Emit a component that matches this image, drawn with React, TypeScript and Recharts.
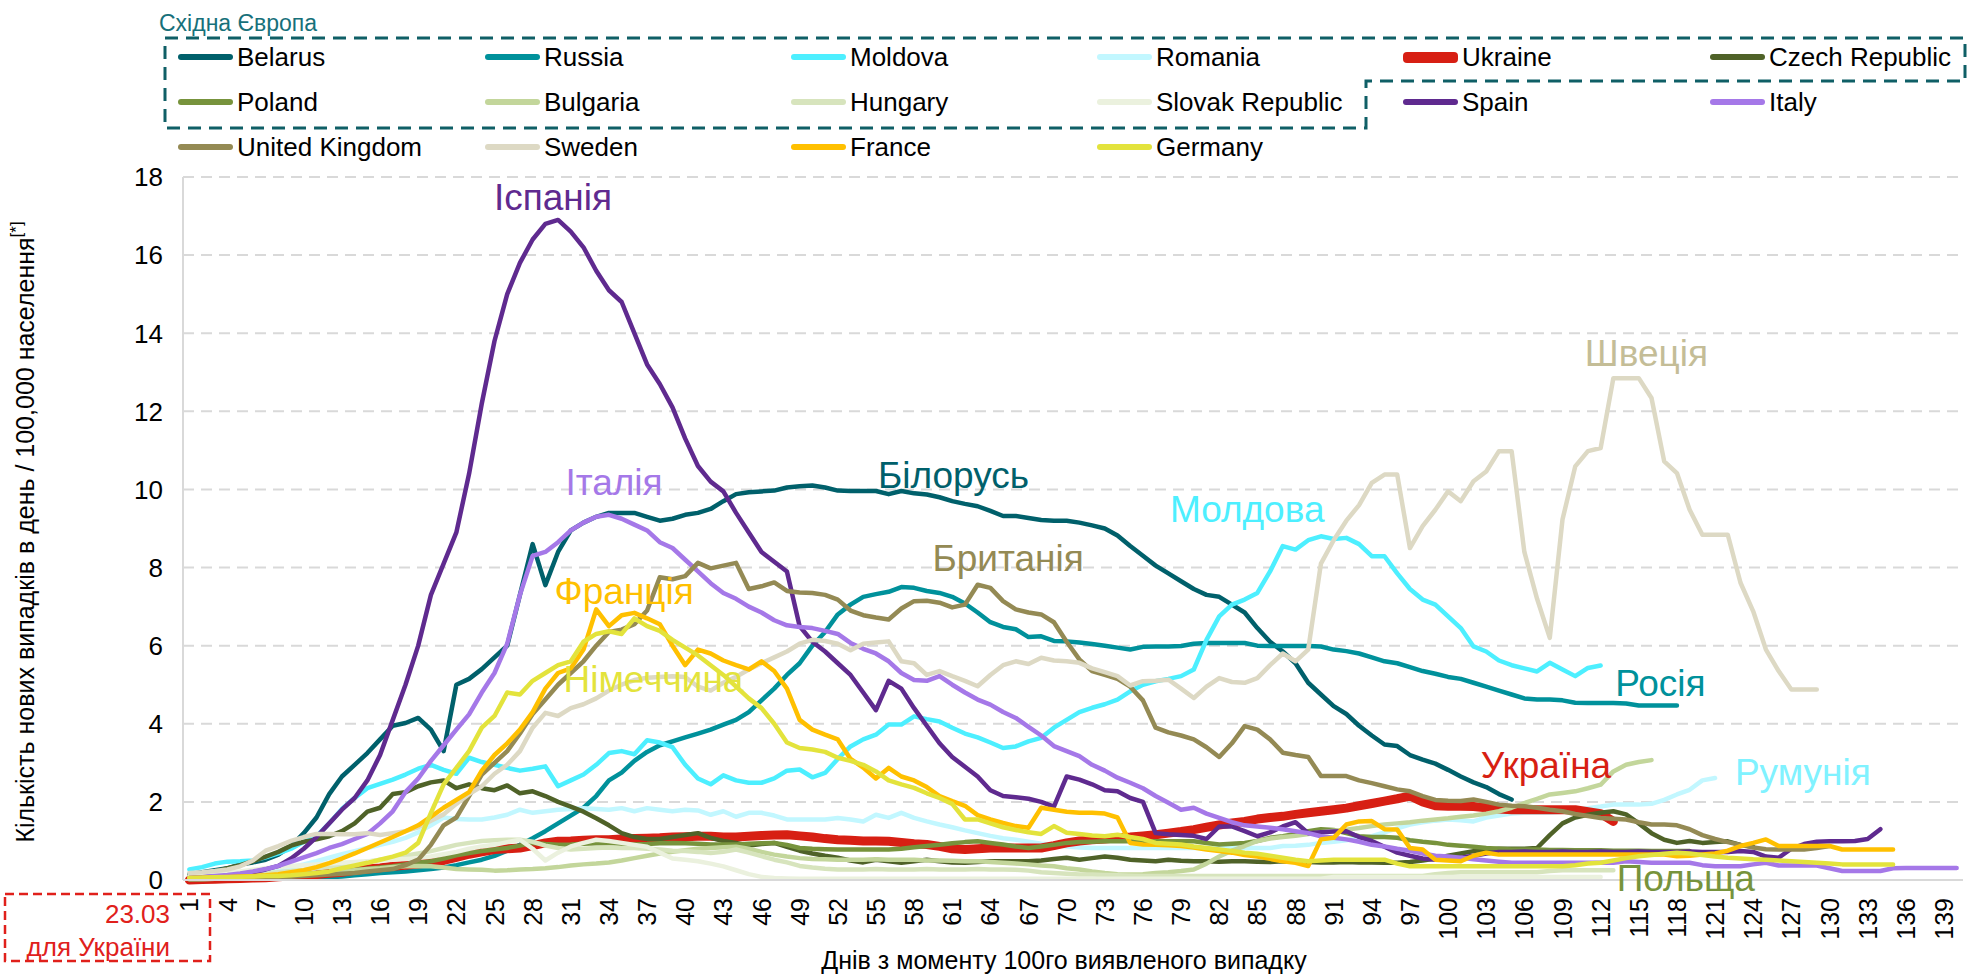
import React from 'react';
import { CartesianGrid, Line, LineChart, ReferenceDot, XAxis, YAxis } from 'recharts';

const FONT = '"Liberation Sans", Arial, sans-serif';

// days since 100th case (category axis)
const days = Array.from({ length: 140 }, (_, i) => i + 1);
const xTicks = [1, 4, 7, 10, 13, 16, 19, 22, 25, 28, 31, 34, 37, 40, 43, 46, 49, 52, 55, 58, 61, 64, 67, 70, 73, 76, 79, 82, 85, 88, 91, 94, 97, 100, 103, 106, 109, 112, 115, 118, 121, 124, 127, 130, 133, 136, 139];
const yTicks = [0, 2, 4, 6, 8, 10, 12, 14, 16, 18];

const belarus = [0.15, 0.2, 0.25, 0.3, 0.4, 0.45, 0.52, 0.65, 0.87, 1.2,
    1.6, 2.2, 2.65, 2.95, 3.25, 3.6, 3.95, 4.02, 4.15, 3.85,
    3.3, 5.0, 5.15, 5.4, 5.7, 6.0, 7.3, 8.6, 7.55, 8.4,
    8.95, 9.15, 9.3, 9.4, 9.4, 9.4, 9.3, 9.2, 9.25, 9.35,
    9.4, 9.5, 9.7, 9.88, 9.93, 9.95, 9.97, 10.05, 10.08, 10.1,
    10.05, 9.97, 9.96, 9.96, 9.96, 9.88, 9.96, 9.9, 9.87, 9.8,
    9.7, 9.63, 9.57, 9.45, 9.32, 9.32, 9.27, 9.22, 9.2, 9.2,
    9.15, 9.08, 9.0, 8.82, 8.55, 8.3, 8.05, 7.85, 7.65, 7.45,
    7.3, 7.25, 7.05, 6.85, 6.45, 6.1, 5.85, 5.55, 5.05, 4.75,
    4.45, 4.25, 3.95, 3.7, 3.47, 3.43, 3.2, 3.08, 2.98, 2.82,
    2.65, 2.5, 2.38, 2.2, 2.06];

const russia = [0.03, 0.03, 0.03, 0.03, 0.03, 0.04, 0.04, 0.04, 0.04, 0.04,
    0.05, 0.07, 0.09, 0.12, 0.15, 0.18, 0.2, 0.22, 0.25, 0.28,
    0.32, 0.38, 0.45, 0.52, 0.62, 0.75, 0.9, 1.07, 1.25, 1.45,
    1.65, 1.85, 2.15, 2.55, 2.75, 3.05, 3.28, 3.45, 3.55, 3.65,
    3.75, 3.85, 3.98, 4.1, 4.3, 4.6, 4.9, 5.25, 5.55, 6.0,
    6.35, 6.8, 7.05, 7.25, 7.32, 7.38, 7.5, 7.48, 7.4, 7.35,
    7.25, 7.08, 6.85, 6.6, 6.48, 6.42, 6.22, 6.24, 6.12, 6.11,
    6.08, 6.04, 6.0, 5.95, 5.9, 5.97, 5.98, 5.98, 5.99, 6.05,
    6.07, 6.07, 6.07, 6.07, 6.0, 5.99, 5.99, 5.99, 5.99, 5.98,
    5.9, 5.86, 5.8, 5.7, 5.6, 5.55, 5.45, 5.35, 5.28, 5.2,
    5.15, 5.05, 4.95, 4.85, 4.75, 4.65, 4.62, 4.62, 4.6, 4.54,
    4.53, 4.53, 4.53, 4.52, 4.47, 4.47, 4.47, 4.47];

const moldova = [0.27, 0.33, 0.42, 0.47, 0.48, 0.5, 0.58, 0.68, 0.8, 0.98,
    1.12, 1.45, 1.82, 2.1, 2.35, 2.46, 2.57, 2.7, 2.85, 2.95,
    2.82, 2.72, 3.13, 3.02, 2.95, 2.87, 2.8, 2.85, 2.91, 2.4,
    2.55, 2.7, 2.95, 3.25, 3.3, 3.22, 3.58, 3.52, 3.4, 2.95,
    2.6, 2.45, 2.68, 2.55, 2.49, 2.49, 2.6, 2.8, 2.83, 2.63,
    2.74, 3.1, 3.42, 3.6, 3.72, 3.98, 3.98, 4.19, 4.12, 4.06,
    3.9, 3.75, 3.65, 3.52, 3.38, 3.42, 3.55, 3.64, 3.9, 4.1,
    4.3, 4.41, 4.5, 4.62, 4.83, 5.0, 5.09, 5.15, 5.22, 5.39,
    6.15, 6.75, 7.05, 7.18, 7.35, 7.9, 8.55, 8.46, 8.7, 8.8,
    8.73, 8.76, 8.6, 8.29, 8.29, 7.85, 7.45, 7.18, 7.05, 6.75,
    6.45, 5.98, 5.85, 5.62, 5.5, 5.42, 5.34, 5.56, 5.39, 5.22,
    5.43, 5.49];

const romania = [0.05, 0.06, 0.08, 0.1, 0.13, 0.17, 0.22, 0.28, 0.33, 0.4,
    0.48, 0.57, 0.66, 0.74, 0.82, 0.9, 0.98, 1.08, 1.22, 1.4,
    1.6, 1.56, 1.55, 1.55, 1.6, 1.67, 1.8, 1.72, 1.76, 1.8,
    1.82, 1.84, 1.82, 1.8, 1.84, 1.76, 1.84, 1.8, 1.76, 1.8,
    1.78, 1.67, 1.76, 1.62, 1.72, 1.72, 1.65, 1.55, 1.55, 1.55,
    1.55, 1.59, 1.55, 1.5, 1.67, 1.59, 1.72, 1.59, 1.5, 1.42,
    1.35, 1.27, 1.2, 1.13, 1.07, 1.03, 0.98, 0.93, 0.9, 0.86,
    0.83, 0.82, 0.82, 0.82, 0.82, 0.82, 0.82, 0.82, 0.82, 0.82,
    0.82, 0.82, 0.82, 0.82, 0.82, 0.82, 0.87, 0.88, 0.9, 0.95,
    0.98, 1.02, 1.06, 1.12, 1.22, 1.32, 1.42, 1.48, 1.52, 1.55,
    1.53, 1.5, 1.6, 1.65, 1.7, 1.72, 1.72, 1.72, 1.75, 1.8,
    1.84, 1.88, 1.93, 1.93, 1.93, 1.95, 2.05, 2.19, 2.31, 2.55,
    2.61];

const ukraine = [0.0, 0.01, 0.02, 0.03, 0.04, 0.05, 0.06, 0.08, 0.1, 0.12,
    0.14, 0.17, 0.2, 0.25, 0.28, 0.31, 0.35, 0.38, 0.41, 0.44,
    0.5, 0.58, 0.66, 0.72, 0.78, 0.8, 0.82, 0.88, 0.95, 0.99,
    1.0, 1.02, 1.03, 1.03, 1.05, 1.06, 1.07, 1.08, 1.1, 1.11,
    1.12, 1.12, 1.1, 1.1, 1.12, 1.14, 1.15, 1.16, 1.13, 1.1,
    1.06, 1.03, 1.02, 1.0, 1.0, 0.99, 0.96, 0.93, 0.91, 0.86,
    0.8, 0.78, 0.8, 0.82, 0.82, 0.82, 0.82, 0.82, 0.88, 0.95,
    1.0, 1.03, 1.05, 1.08, 1.1, 1.13, 1.16, 1.2, 1.24, 1.29,
    1.35, 1.41, 1.46, 1.5, 1.56, 1.6, 1.63, 1.68, 1.72, 1.76,
    1.8, 1.84, 1.9, 1.96, 2.02, 2.08, 2.15, 2.0, 1.9, 1.89,
    1.89, 1.88, 1.85, 1.82, 1.8, 1.8, 1.8, 1.8, 1.8, 1.8,
    1.75, 1.7, 1.5];

const czech = [0.1, 0.15, 0.22, 0.3, 0.38, 0.48, 0.6, 0.72, 0.88, 0.98,
    1.04, 1.12, 1.25, 1.45, 1.75, 1.85, 2.2, 2.25, 2.4, 2.5,
    2.55, 2.35, 2.45, 2.35, 2.3, 2.42, 2.22, 2.27, 2.15, 2.0,
    1.88, 1.75, 1.58, 1.4, 1.2, 1.1, 1.05, 1.05, 1.1, 1.15,
    1.2, 1.08, 1.0, 0.95, 0.88, 0.92, 0.95, 0.85, 0.75, 0.68,
    0.62, 0.57, 0.5, 0.45, 0.52, 0.48, 0.44, 0.48, 0.52, 0.48,
    0.45, 0.44, 0.46, 0.48, 0.48, 0.48, 0.48, 0.5, 0.54, 0.57,
    0.52, 0.56, 0.6, 0.57, 0.52, 0.5, 0.48, 0.52, 0.49, 0.48,
    0.48, 0.47, 0.48, 0.48, 0.47, 0.46, 0.48, 0.47, 0.46, 0.45,
    0.45, 0.46, 0.45, 0.45, 0.44, 0.44, 0.46, 0.5, 0.55, 0.62,
    0.68, 0.74, 0.78, 0.8, 0.8, 0.8, 0.82, 1.15, 1.45, 1.6,
    1.67, 1.72, 1.76, 1.68, 1.45, 1.2, 1.03, 0.95, 1.0, 0.95,
    0.97, 0.99, 0.9, 0.85];

const poland = [0.02, 0.03, 0.04, 0.05, 0.06, 0.08, 0.1, 0.12, 0.14, 0.16,
    0.18, 0.2, 0.23, 0.26, 0.29, 0.32, 0.35, 0.4, 0.44, 0.48,
    0.55, 0.63, 0.69, 0.74, 0.78, 0.82, 0.88, 0.95, 0.92, 0.9,
    0.91, 0.93, 0.94, 0.95, 0.93, 0.91, 0.92, 0.94, 0.95, 0.94,
    0.93, 0.91, 0.91, 0.91, 0.93, 0.94, 0.95, 0.9, 0.82, 0.8,
    0.79, 0.78, 0.78, 0.78, 0.78, 0.78, 0.8, 0.84, 0.87, 0.9,
    0.94, 0.97, 0.99, 0.95, 0.91, 0.86, 0.82, 0.86, 0.9, 0.95,
    0.97, 0.98, 0.99, 0.99, 0.99, 0.99, 0.99, 0.99, 0.99, 0.99,
    0.95, 0.91, 0.93, 0.95, 1.0, 1.08, 1.12, 1.18, 1.25, 1.3,
    1.28, 1.2, 1.12, 1.1, 1.1, 1.08, 1.02, 0.98, 0.95, 0.9,
    0.88, 0.85, 0.82, 0.8, 0.78, 0.78, 0.78, 0.77, 0.77, 0.76,
    0.76, 0.76, 0.75, 0.75, 0.75, 0.74, 0.74, 0.74, 0.74];

const bulgaria = [0.02, 0.02, 0.03, 0.04, 0.05, 0.06, 0.08, 0.1, 0.12, 0.14,
    0.17, 0.2, 0.22, 0.25, 0.28, 0.3, 0.33, 0.35, 0.36, 0.35,
    0.32, 0.28, 0.27, 0.26, 0.24, 0.25, 0.27, 0.28, 0.3, 0.33,
    0.37, 0.4, 0.42, 0.45, 0.5, 0.56, 0.62, 0.68, 0.72, 0.76,
    0.8, 0.82, 0.84, 0.85, 0.8, 0.72, 0.65, 0.6, 0.56, 0.54,
    0.53, 0.52, 0.52, 0.52, 0.53, 0.52, 0.52, 0.52, 0.5, 0.5,
    0.49, 0.48, 0.48, 0.46, 0.44, 0.42, 0.4, 0.37, 0.35, 0.3,
    0.27, 0.22, 0.18, 0.15, 0.14, 0.15, 0.18, 0.2, 0.23, 0.27,
    0.42, 0.6, 0.75, 0.87, 1.0, 1.06, 1.1, 1.13, 1.18, 1.22,
    1.26, 1.29, 1.33, 1.38, 1.42, 1.45, 1.48, 1.52, 1.55, 1.58,
    1.62, 1.65, 1.7, 1.76, 1.85, 1.97, 2.08, 2.19, 2.23, 2.27,
    2.35, 2.44, 2.78, 2.95, 3.02, 3.07];

const hungary = [0.05, 0.06, 0.08, 0.1, 0.12, 0.14, 0.17, 0.2, 0.23, 0.26,
    0.3, 0.34, 0.38, 0.42, 0.47, 0.52, 0.57, 0.62, 0.68, 0.74,
    0.82, 0.9, 0.95, 1.0, 1.02, 1.03, 1.03, 0.98, 0.88, 0.82,
    0.78, 0.8, 0.82, 0.83, 0.82, 0.82, 0.8, 0.78, 0.75, 0.74,
    0.72, 0.69, 0.72, 0.78, 0.7, 0.61, 0.52, 0.45, 0.36, 0.32,
    0.29, 0.27, 0.27, 0.27, 0.28, 0.27, 0.27, 0.27, 0.28, 0.27,
    0.27, 0.27, 0.28, 0.27, 0.27, 0.26, 0.24, 0.2, 0.18, 0.16,
    0.14, 0.14, 0.13, 0.12, 0.11, 0.1, 0.1, 0.1, 0.1, 0.1,
    0.1, 0.1, 0.1, 0.1, 0.1, 0.1, 0.1, 0.1, 0.1, 0.1,
    0.1, 0.1, 0.1, 0.1, 0.1, 0.1, 0.1, 0.1, 0.15, 0.18,
    0.2, 0.2, 0.2, 0.2, 0.2, 0.2, 0.2, 0.23, 0.25, 0.25,
    0.25, 0.25, 0.25];

const slovakia = [0.1, 0.12, 0.15, 0.18, 0.22, 0.26, 0.3, 0.33, 0.36, 0.38,
    0.4, 0.42, 0.44, 0.46, 0.48, 0.5, 0.52, 0.54, 0.56, 0.6,
    0.66, 0.72, 0.8, 0.86, 0.9, 0.97, 1.03, 0.8, 0.5, 0.7,
    0.86, 0.95, 1.03, 1.0, 0.95, 0.9, 0.85, 0.7, 0.55, 0.52,
    0.48, 0.42, 0.35, 0.25, 0.15, 0.08, 0.05, 0.04, 0.03, 0.03,
    0.03, 0.03, 0.03, 0.03, 0.03, 0.03, 0.03, 0.03, 0.03, 0.03,
    0.03, 0.03, 0.03, 0.03, 0.03, 0.03, 0.03, 0.03, 0.03, 0.03,
    0.03, 0.03, 0.03, 0.03, 0.03, 0.03, 0.03, 0.03, 0.03, 0.03,
    0.03, 0.03, 0.03, 0.03, 0.03, 0.03, 0.03, 0.03, 0.03, 0.03,
    0.08, 0.08, 0.08, 0.08, 0.08, 0.08, 0.08, 0.08, 0.08, 0.08,
    0.08, 0.08, 0.08, 0.08, 0.08, 0.08, 0.08, 0.08, 0.08, 0.08,
    0.08, 0.08];

const spain = [0.05, 0.07, 0.09, 0.1, 0.14, 0.2, 0.27, 0.36, 0.55, 0.8,
    1.1, 1.45, 1.8, 2.1, 2.55, 3.2, 4.1, 5.0, 6.0, 7.3,
    8.1, 8.9, 10.4, 12.2, 13.8, 15.0, 15.8, 16.4, 16.8, 16.9,
    16.6, 16.2, 15.6, 15.1, 14.8, 14.0, 13.2, 12.7, 12.1, 11.3,
    10.6, 10.2, 9.95, 9.4, 8.9, 8.4, 8.15, 7.9, 6.5, 6.1,
    5.85, 5.55, 5.25, 4.8, 4.35, 5.1, 4.9, 4.4, 3.95, 3.5,
    3.15, 2.9, 2.65, 2.3, 2.15, 2.12, 2.08, 2.0, 1.88, 2.65,
    2.57, 2.45, 2.3, 2.27, 2.1, 2.0, 1.2, 1.17, 1.15, 1.13,
    1.05, 1.37, 1.37, 1.25, 1.12, 1.22, 1.37, 1.48, 1.2, 1.22,
    1.24, 1.25, 1.1, 1.0, 0.85, 0.7, 0.62, 0.55, 0.52, 0.52,
    0.57, 0.62, 0.68, 0.72, 0.72, 0.73, 0.72, 0.72, 0.73, 0.72,
    0.72, 0.73, 0.72, 0.72, 0.73, 0.72, 0.72, 0.72, 0.73, 0.72,
    0.72, 0.72, 0.74, 0.72, 0.6, 0.57, 0.8, 0.92, 0.98, 0.99,
    0.99, 1.0, 1.05, 1.3];

const italy = [0.05, 0.07, 0.1, 0.13, 0.17, 0.22, 0.28, 0.36, 0.47, 0.58,
    0.69, 0.82, 0.92, 1.05, 1.18, 1.45, 1.76, 2.25, 2.6, 3.05,
    3.45, 3.85, 4.24, 4.8, 5.3, 6.05, 7.3, 8.3, 8.4, 8.65,
    8.95, 9.15, 9.3, 9.35, 9.25, 9.1, 8.95, 8.65, 8.5, 8.2,
    7.9, 7.6, 7.35, 7.2, 7.0, 6.85, 6.65, 6.52, 6.48, 6.45,
    6.38, 6.3, 6.07, 5.92, 5.8, 5.6, 5.3, 5.12, 5.1, 5.22,
    5.0, 4.8, 4.62, 4.49, 4.3, 4.15, 3.92, 3.7, 3.43, 3.3,
    3.17, 2.95, 2.8, 2.62, 2.49, 2.35, 2.15, 1.98, 1.8, 1.85,
    1.7, 1.59, 1.48, 1.4, 1.37, 1.34, 1.3, 1.25, 1.2, 1.12,
    1.08, 1.04, 0.98, 0.9, 0.86, 0.8, 0.75, 0.68, 0.62, 0.6,
    0.57, 0.53, 0.5, 0.47, 0.44, 0.44, 0.44, 0.44, 0.44, 0.44,
    0.44, 0.44, 0.44, 0.48, 0.46, 0.44, 0.44, 0.44, 0.44, 0.38,
    0.35, 0.35, 0.35, 0.4, 0.44, 0.37, 0.37, 0.37, 0.37, 0.3,
    0.23, 0.23, 0.23, 0.23, 0.3, 0.31, 0.31, 0.31, 0.31, 0.31];

const uk = [0.02, 0.02, 0.03, 0.03, 0.04, 0.05, 0.06, 0.07, 0.08, 0.1,
    0.12, 0.14, 0.16, 0.18, 0.22, 0.25, 0.28, 0.38, 0.52, 0.9,
    1.4, 1.6, 2.15, 2.7, 3.0, 3.3, 3.75, 4.25, 4.62, 5.0,
    5.3, 5.6, 6.0, 6.35, 6.41, 6.55, 6.9, 7.75, 7.7, 7.78,
    8.12, 7.98, 8.05, 8.12, 7.45, 7.52, 7.62, 7.4, 7.36, 7.35,
    7.3, 7.18, 6.9, 6.78, 6.72, 6.67, 6.95, 7.14, 7.15, 7.1,
    6.98, 7.05, 7.56, 7.48, 7.14, 6.93, 6.85, 6.8, 6.6, 6.1,
    5.65, 5.35, 5.25, 5.15, 4.95, 4.6, 3.9, 3.78, 3.7, 3.6,
    3.4, 3.15, 3.5, 3.94, 3.85, 3.6, 3.26, 3.2, 3.15, 2.66,
    2.66, 2.66, 2.55, 2.48, 2.4, 2.32, 2.27, 2.15, 2.05, 2.03,
    2.02, 2.06, 2.0, 1.93, 1.9, 1.89, 1.85, 1.8, 1.76, 1.69,
    1.64, 1.59, 1.57, 1.55, 1.48, 1.42, 1.42, 1.4, 1.3, 1.15,
    1.05, 0.97, 0.9, 0.83, 0.79, 0.78, 0.78, 0.78, 0.82, 0.87];

const sweden = [0.18, 0.2, 0.23, 0.27, 0.35, 0.5, 0.75, 0.87, 1.0, 1.1,
    1.18, 1.18, 1.17, 1.17, 1.2, 1.15, 1.2, 1.25, 1.35, 1.52,
    1.68, 1.95, 2.2, 2.4, 2.72, 2.95, 3.3, 3.9, 4.28, 4.2,
    4.4, 4.5, 4.65, 4.85, 5.0, 5.12, 5.18, 5.2, 5.22, 5.2,
    4.95, 4.85, 5.05, 5.2, 5.39, 5.55, 5.7, 5.85, 6.05, 6.15,
    6.12, 6.05, 5.88, 6.05, 6.08, 6.11, 5.6, 5.55, 5.25, 5.35,
    5.22, 5.1, 4.96, 5.25, 5.5, 5.6, 5.53, 5.69, 5.62, 5.6,
    5.56, 5.42, 5.32, 5.22, 4.98, 5.09, 5.1, 5.13, 4.9, 4.66,
    4.95, 5.17, 5.07, 5.05, 5.17, 5.5, 5.8, 5.6, 5.9, 8.1,
    8.7, 9.2, 9.6, 10.17, 10.38, 10.38, 8.5, 9.06, 9.48, 9.95,
    9.7, 10.21, 10.46, 10.98, 10.98, 8.4, 7.2, 6.2, 9.23, 10.59,
    10.98, 11.06, 12.85, 12.85, 12.85, 12.34, 10.72, 10.42, 9.48, 8.84,
    8.84, 8.84, 7.61, 6.88, 5.9, 5.35, 4.88, 4.88, 4.88];

const france = [0.05, 0.06, 0.07, 0.08, 0.09, 0.1, 0.12, 0.15, 0.2, 0.25,
    0.33, 0.43, 0.55, 0.68, 0.82, 0.96, 1.1, 1.25, 1.4, 1.62,
    1.85, 2.05, 2.25, 2.8, 3.2, 3.5, 3.85, 4.3, 4.9, 5.3,
    5.42, 5.9, 6.93, 6.5, 6.78, 6.84, 6.7, 6.55, 6.0, 5.5,
    5.9, 5.8, 5.62, 5.5, 5.39, 5.6, 5.35, 4.9, 4.1, 3.85,
    3.72, 3.6, 3.1, 2.88, 2.6, 2.87, 2.65, 2.55, 2.38, 2.15,
    2.02, 1.9, 1.66, 1.55, 1.46, 1.38, 1.34, 1.85, 1.8, 1.75,
    1.72, 1.72, 1.7, 1.6, 0.95, 0.91, 0.9, 0.89, 0.87, 0.83,
    0.78, 0.74, 0.7, 0.64, 0.6, 0.54, 0.48, 0.44, 0.36, 1.04,
    1.08, 1.42, 1.5, 1.51, 1.3, 1.29, 0.82, 0.78, 0.52, 0.5,
    0.48, 0.62, 0.7, 0.65, 0.65, 0.65, 0.65, 0.65, 0.65, 0.65,
    0.65, 0.65, 0.65, 0.65, 0.65, 0.65, 0.65, 0.61, 0.62, 0.65,
    0.68, 0.75, 0.87, 0.95, 1.04, 0.87, 0.87, 0.87, 0.87, 0.87,
    0.78, 0.78, 0.78, 0.78, 0.78];

const germany = [0.05, 0.06, 0.07, 0.07, 0.08, 0.09, 0.1, 0.1, 0.12, 0.15,
    0.18, 0.22, 0.3, 0.37, 0.44, 0.52, 0.6, 0.7, 0.95, 1.72,
    2.45, 2.87, 3.3, 3.9, 4.2, 4.8, 4.75, 5.1, 5.3, 5.5,
    5.6, 6.1, 6.3, 6.37, 6.3, 6.7, 6.5, 6.38, 6.15, 5.95,
    5.75, 5.5, 5.25, 4.95, 4.65, 4.4, 4.0, 3.52, 3.38, 3.34,
    3.28, 3.13, 3.05, 2.95, 2.78, 2.55, 2.45, 2.36, 2.22, 2.1,
    1.95, 1.55, 1.55, 1.45, 1.35, 1.28, 1.22, 1.18, 1.38, 1.21,
    1.18, 1.14, 1.12, 1.16, 1.1, 1.05, 0.95, 0.93, 0.91, 0.86,
    0.82, 0.78, 0.74, 0.7, 0.67, 0.62, 0.57, 0.52, 0.48, 0.5,
    0.52, 0.52, 0.52, 0.52, 0.52, 0.42, 0.35, 0.35, 0.35, 0.35,
    0.35, 0.35, 0.35, 0.35, 0.35, 0.35, 0.35, 0.35, 0.35, 0.38,
    0.42, 0.44, 0.5, 0.56, 0.61, 0.64, 0.67, 0.7, 0.68, 0.64,
    0.6, 0.57, 0.55, 0.53, 0.52, 0.5, 0.48, 0.46, 0.44, 0.42,
    0.4, 0.4, 0.4, 0.4, 0.4];

const series = [
    { key: 'belarus', name: 'Belarus', color: '#00606B', values: belarus },
    { key: 'russia', name: 'Russia', color: '#00919B', values: russia },
    { key: 'moldova', name: 'Moldova', color: '#4DEFFF', values: moldova },
    { key: 'romania', name: 'Romania', color: '#C2F7FF', values: romania },
    { key: 'ukraine', name: 'Ukraine', color: '#D71F13', values: ukraine },
    { key: 'czech', name: 'Czech Republic', color: '#4F6228', values: czech },
    { key: 'poland', name: 'Poland', color: '#77933C', values: poland },
    { key: 'bulgaria', name: 'Bulgaria', color: '#C3D69B', values: bulgaria },
    { key: 'hungary', name: 'Hungary', color: '#D7E4BD', values: hungary },
    { key: 'slovakia', name: 'Slovak Republic', color: '#EBF1DE', values: slovakia },
    { key: 'spain', name: 'Spain', color: '#5F2A8F', values: spain },
    { key: 'italy', name: 'Italy', color: '#A578E8', values: italy },
    { key: 'uk', name: 'United Kingdom', color: '#948A54', values: uk },
    { key: 'sweden', name: 'Sweden', color: '#DDD9C4', values: sweden },
    { key: 'france', name: 'France', color: '#FFC000', values: france },
    { key: 'germany', name: 'Germany', color: '#E3E33C', values: germany },
];

// Ukrainian country labels placed next to their lines
const notes = [
    { text: 'Іспанія', day: 29.6, value: 17.5, color: '#5F2A8F' },
    { text: 'Італія', day: 34.4, value: 10.2, color: '#A578E8' },
    { text: 'Білорусь', day: 61.1, value: 10.38, color: '#00606B' },
    { text: 'Франція', day: 35.2, value: 7.41, color: '#FFC000' },
    { text: 'Британія', day: 65.4, value: 8.25, color: '#948A54' },
    { text: 'Молдова', day: 84.2, value: 9.51, color: '#4DEFFF' },
    { text: 'Німеччина', day: 37.5, value: 5.15, color: '#E3E33C' },
    { text: 'Швеція', day: 115.6, value: 13.5, color: '#C4BD97' },
    { text: 'Росія', day: 116.7, value: 5.06, color: '#00919B' },
    { text: 'Україна', day: 107.7, value: 2.95, color: '#D71F13' },
    { text: 'Румунія', day: 127.9, value: 2.78, color: '#80F2FF' },
    { text: 'Польща', day: 118.7, value: 0.06, color: '#77933C' },
];

const data = days.map((d, i) => {
    const row: Record<string, number | null> = { day: d };
    series.forEach((s) => {
        row[s.key] = i < s.values.length ? s.values[i] : null;
    });
    return row;
});

const legendCols = [178, 485, 791, 1097, 1403, 1710];
const legendRows = [57, 102, 147];

function XTick(props: any) {
    const { x, y, payload } = props;
    return (
        <text
            x={x}
            y={y}
            transform={`rotate(-90 ${x} ${y})`}
            textAnchor="end"
            dy="0.36em"
            fontSize={25}
            fill="#000"
            fontFamily={FONT}
        >
            {payload.value}
        </text>
    );
}

function YTick(props: any) {
    const { x, y, payload } = props;
    return (
        <text x={x} y={y} textAnchor="end" dy="0.36em" fontSize={26} fill="#000" fontFamily={FONT}>
            {payload.value}
        </text>
    );
}

export default function App() {
    return (
        <div
            style={{
                position: 'fixed',
                left: 0,
                top: 0,
                width: 1972,
                height: 974,
                background: '#fff',
                fontFamily: FONT,
                overflow: 'hidden',
            }}
        >
            <LineChart width={1972} height={974} data={data} margin={{ top: 177, right: 9, bottom: 0, left: 0 }}>
                <CartesianGrid vertical={false} stroke="#D9D9D9" strokeWidth={2} strokeDasharray="11 7" />
                <XAxis
                    dataKey="day"
                    type="number"
                    domain={[0.5, 140.5]}
                    ticks={xTicks}
                    interval={0}
                    height={94}
                    tickLine={false}
                    tickMargin={12}
                    axisLine={{ stroke: '#D9D9D9', strokeWidth: 2 }}
                    tick={<XTick />}
                />
                <YAxis
                    type="number"
                    domain={[0, 18]}
                    ticks={yTicks}
                    interval={0}
                    width={183}
                    tickLine={false}
                    tickMargin={14}
                    axisLine={{ stroke: '#D9D9D9', strokeWidth: 2 }}
                    tick={<YTick />}
                />
                {series.map((s) => (
                    <Line
                        key={s.key}
                        dataKey={s.key}
                        name={s.name}
                        type="linear"
                        stroke={s.color}
                        strokeWidth={s.key === 'ukraine' ? 9 : 4.5}
                        strokeLinejoin="round"
                        strokeLinecap="round"
                        dot={false}
                        activeDot={false}
                        isAnimationActive={false}
                    />
                ))}
                {notes.map((n) => (
                    <ReferenceDot
                        key={n.text}
                        x={n.day}
                        y={n.value}
                        r={0}
                        fill="none"
                        stroke="none"
                        label={{ value: n.text, position: 'center', fill: n.color, fontSize: 37, fontFamily: FONT }}
                    />
                ))}
            </LineChart>

            {/* legend */}
            {series.map((s, i) => (
                <div
                    key={s.key}
                    style={{
                        position: 'absolute',
                        left: legendCols[i % 6],
                        top: legendRows[Math.floor(i / 6)] - 16,
                        height: 32,
                        display: 'flex',
                        alignItems: 'center',
                        whiteSpace: 'nowrap',
                    }}
                >
                    <span
                        style={{
                            display: 'inline-block',
                            width: 55,
                            height: s.key === 'ukraine' ? 11 : 6,
                            borderRadius: 4,
                            background: s.color,
                        }}
                    />
                    <span style={{ marginLeft: 4, fontSize: 26, color: '#000', lineHeight: 1 }}>{s.name}</span>
                </div>
            ))}

            <svg width={1972} height={974} style={{ position: 'absolute', left: 0, top: 0, pointerEvents: 'none' }}>
                <path
                    d="M165 38 H1965 V81 H1366 V128 H165 Z"
                    fill="none"
                    stroke="#0F5F66"
                    strokeWidth={3}
                    strokeDasharray="13 8"
                />
                <text x={159} y={31} fontSize={23} fill="#17707A" fontFamily={FONT}>
                    Східна Європа
                </text>
                <text
                    transform="translate(25,532) rotate(-90)"
                    textAnchor="middle"
                    dominantBaseline="central"
                    fontSize={25}
                    fill="#000"
                    fontFamily={FONT}
                >
                    Кількість нових випадків в день / 100,000 населення
                    <tspan fontSize={17} dy={-9}>[*]</tspan>
                </text>
                <text x={1064} y={960} textAnchor="middle" dominantBaseline="central" fontSize={25} fill="#000" fontFamily={FONT}>
                    Днів з моменту 100го виявленого випадку
                </text>
                <rect x={5} y={894} width={205} height={67} fill="none" stroke="#E0201B" strokeWidth={2.5} strokeDasharray="9 5" />
                <text x={170} y={914} textAnchor="end" dominantBaseline="central" fontSize={26} fill="#E0201B" fontFamily={FONT}>
                    23.03
                </text>
                <text x={170} y={947} textAnchor="end" dominantBaseline="central" fontSize={26} fill="#E0201B" fontFamily={FONT}>
                    для України
                </text>
            </svg>
        </div>
    );
}
